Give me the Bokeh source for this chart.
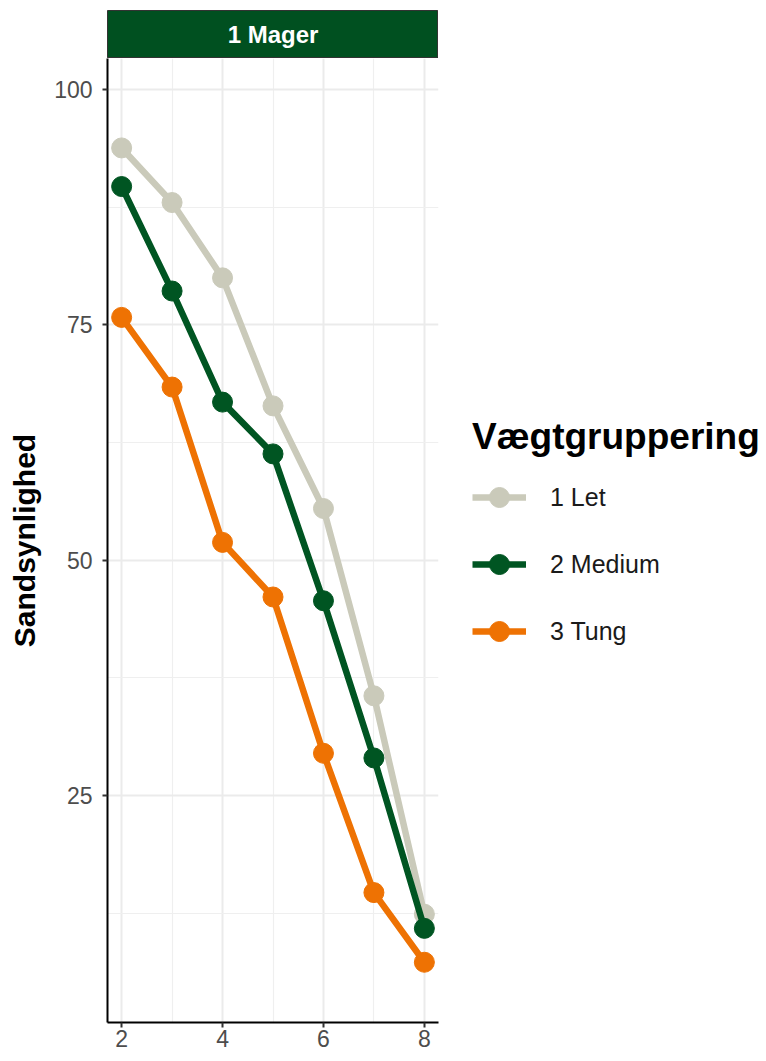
from bokeh.plotting import figure
from bokeh.models import FixedTicker, Range1d, Legend, LegendItem
from bokeh.layouts import column
from bokeh.core.properties import value
from bokeh.embed import file_html
from bokeh.resources import INLINE

x_vals = [2, 3, 4, 5, 6, 7, 8]
groups = ["1 Let", "2 Medium", "3 Tung"]
let_vals = [93.8, 88.0, 80.0, 66.4, 55.5, 35.6, 12.4]
medium_vals = [89.7, 78.6, 66.8, 61.3, 45.7, 29.0, 10.9]
tung_vals = [75.8, 68.4, 51.9, 46.1, 29.5, 14.7, 7.3]
colors = ["#CACABA", "#005522", "#EE7203"]
panel_title = "1 Mager"
y_label = "Sandsynlighed"
legend_title = "Vægtgruppering"
y_ticks = [25, 50, 75, 100]
y_minor = [12.5, 37.5, 62.5, 87.5]
x_ticks = [2, 4, 6, 8]
x_minor = [3, 5, 7]

FONT = "Liberation Sans"
LEFT = 107
FW = 331
RIGHT = 318

# facet strip
strip = figure(frame_width=FW, frame_height=48, output_backend="svg",
               toolbar_location=None, x_range=Range1d(0, 1), y_range=Range1d(0, 1),
               min_border_left=LEFT, min_border_right=0, min_border_top=10,
               min_border_bottom=0, title=None)
strip.background_fill_color = "#005020"
strip.outline_line_color = "#333333"
strip.outline_line_width = 1
strip.axis.visible = False
strip.grid.visible = False
strip.text(x=[0.5], y=[0.5], text=[panel_title], text_align="center",
           text_baseline="middle", text_color="white",
           text_font=value(FONT), text_font_size="24px", text_font_style="bold")

p = figure(frame_width=FW, frame_height=964, output_backend="svg",
           toolbar_location=None, x_range=Range1d(1.72, 8.28),
           y_range=Range1d(0.9, 103.3), title=None,
           min_border_left=LEFT, min_border_right=RIGHT, min_border_top=0,
           min_border_bottom=38)
p.outline_line_color = None
p.background_fill_color = "white"

series = [let_vals, medium_vals, tung_vals]
items = []
for g, vals, c in zip(groups, series, colors):
    r1 = p.line(x_vals, vals, line_color=c, line_width=6.5)
    r2 = p.scatter(x_vals, vals, size=20, fill_color=c, line_color=c)
    items.append(LegendItem(label=g, renderers=[r1, r2]))

p.xaxis.ticker = FixedTicker(ticks=x_ticks, minor_ticks=x_minor)
p.yaxis.ticker = FixedTicker(ticks=y_ticks, minor_ticks=y_minor)
for ax in (p.xaxis, p.yaxis):
    ax.axis_line_color = "black"
    ax.axis_line_width = 2
    ax.major_tick_line_color = "#333333"
    ax.major_tick_line_width = 2
    ax.major_tick_out = 5
    ax.major_tick_in = 0
    ax.minor_tick_line_color = None
    ax.major_label_text_font = FONT
    ax.major_label_text_font_size = "23px"
    ax.major_label_text_color = "#4D4D4D"
p.yaxis.axis_label = y_label
p.yaxis.axis_label_text_font = FONT
p.yaxis.axis_label_text_font_size = "30px"
p.yaxis.axis_label_text_font_style = "bold"
p.yaxis.axis_label_text_color = "black"
p.yaxis.axis_label_standoff = 10
p.xaxis.major_label_standoff = 2
p.yaxis.major_label_standoff = 10

for gr in (p.xgrid, p.ygrid):
    gr.grid_line_color = "#EBEBEB"
    gr.grid_line_width = 2
    gr.minor_grid_line_color = "#EFEFEF"
    gr.minor_grid_line_width = 1.2

legend = Legend(items=items, title=legend_title, location=(34, 366))
legend.title_text_font = FONT
legend.title_text_font_size = "37px"
legend.title_text_font_style = "bold"
legend.title_text_color = "black"
legend.title_standoff = 14
legend.label_text_font = FONT
legend.label_text_font_size = "25px"
legend.label_text_color = "#1A1A1A"
legend.glyph_width = 54
legend.glyph_height = 50
legend.label_standoff = 24
legend.spacing = 17
legend.padding = 0
legend.margin = 0
legend.border_line_color = None
legend.background_fill_color = None
p.add_layout(legend, "right")

layout = column(strip, p, spacing=0)
open("out.html", "w").write(file_html(layout, INLINE))
